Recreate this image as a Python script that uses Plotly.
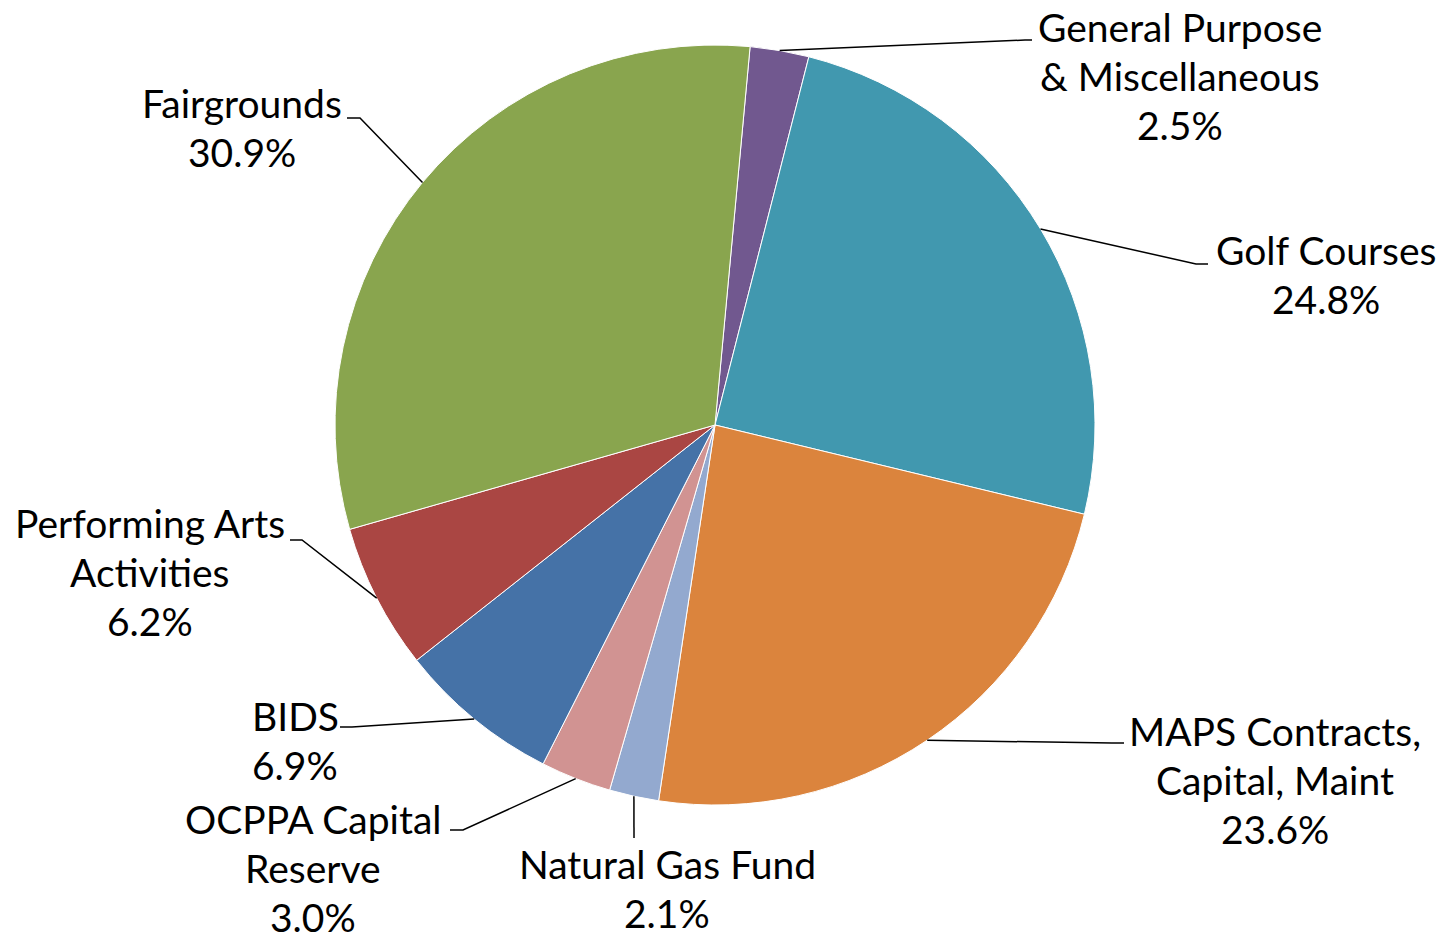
import math
import plotly.graph_objects as go

# ---- data ----
categories = [
    "General Purpose & Miscellaneous",
    "Golf Courses",
    "MAPS Contracts, Capital, Maint",
    "Natural Gas Fund",
    "OCPPA Capital Reserve",
    "BIDS",
    "Performing Arts Activities",
    "Fairgrounds",
]
shares = [2.5, 24.8, 23.6, 2.1, 3.0, 6.9, 6.2, 30.9]
label_lines = [
    ["General Purpose", "& Miscellaneous"],
    ["Golf Courses"],
    ["MAPS Contracts,", "Capital, Maint"],
    ["Natural Gas Fund"],
    ["OCPPA Capital", "Reserve"],
    ["BIDS"],
    ["Performing Arts", "Activities"],
    ["Fairgrounds"],
]

# ---- styles / layout ----
colors = ["#71588F", "#4198AF", "#DB843D", "#93A9CF",
          "#D19392", "#4572A7", "#AA4643", "#89A54E"]
W, H = 1455, 940
CX, CY, R = 715, 425, 380      # pie centre / radius in pixels
START = 5.3                    # degrees clockwise from 12 o'clock
FONT = "Gill Sans, Gill Sans MT, Lato, sans-serif"
FS = 39
LINE_H = 49
# label placement: (text centre x, first line y, elbow (x,y), end (x,y))
label_pos = [
    (1180, 27, (1025, 40), (1032, 40)),
    (1326, 250, (1196, 264), (1208, 264)),
    (1275, 731, (1112, 743), (1124, 743)),
    (667, 864, (634, 838), (634, 838)),
    (313, 819, (463, 830), (450, 830)),
    (295, 716, (352, 727), (340, 727)),
    (150, 523, (302, 540), (290, 540)),
    (242, 103, (360, 118), (347, 118)),
]

fig = go.Figure()
fig.add_trace(go.Pie(
    labels=categories, values=shares, sort=False, direction="clockwise",
    rotation=START, marker=dict(colors=colors, line=dict(color="white", width=1)),
    textinfo="none", hoverinfo="label+percent", showlegend=False,
    domain=dict(x=[(CX - R) / W, (CX + R) / W], y=[(H - CY - R) / H, (H - CY + R) / H]),
))

total = sum(shares)
cum = 0.0
shapes, annotations = [], []
for v, lines, (tx, ty, elbow, end) in zip(shares, label_lines, label_pos):
    mid = math.radians(START + (cum + v / 2) / total * 360)
    cum += v
    sx = CX + R * math.sin(mid)
    sy = CY - R * math.cos(mid)
    path = f"M {sx:.1f},{sy:.1f} L {elbow[0]},{elbow[1]} L {end[0]},{end[1]}"
    shapes.append(dict(type="path", path=path, xref="x", yref="y",
                       line=dict(color="black", width=1.5), layer="above"))
    all_lines = lines + [f"{v:.1f}%"]
    for i, t in enumerate(all_lines):
        annotations.append(dict(x=tx, y=ty + i * LINE_H, xref="x", yref="y",
                                text=t, showarrow=False, xanchor="center", yanchor="middle",
                                font=dict(family=FONT, size=FS, color="black")))

fig.update_layout(
    width=W, height=H, margin=dict(l=0, r=0, t=0, b=0),
    paper_bgcolor="white", plot_bgcolor="rgba(0,0,0,0)",
    xaxis=dict(range=[0, W], visible=False, fixedrange=True, domain=[0, 1]),
    yaxis=dict(range=[H, 0], visible=False, fixedrange=True, domain=[0, 1]),
    shapes=shapes, annotations=annotations,
)
fig.write_html("out.html", config={"displayModeBar": False},
               post_script="document.body.style.margin='0';document.body.style.overflow='hidden';")
